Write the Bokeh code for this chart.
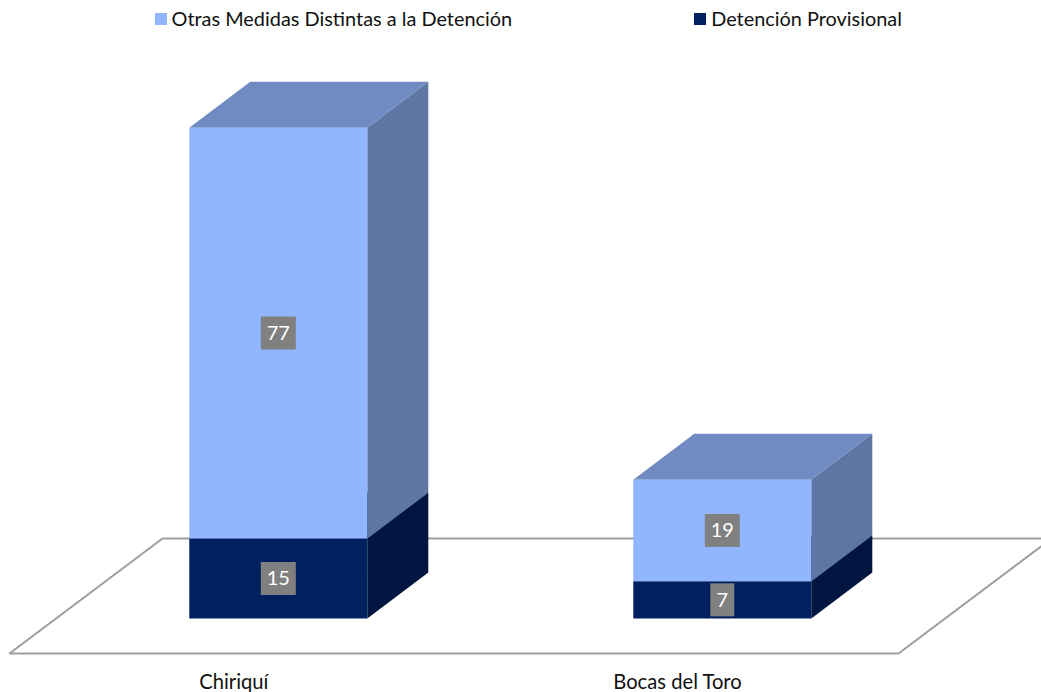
from bokeh.plotting import figure
from bokeh.embed import file_html
from bokeh.resources import INLINE
from bokeh.core.properties import value
from bokeh.models import FixedTicker, Legend, LegendItem

categories = ["Chiriquí", "Bocas del Toro"]
provisional = [15, 7]
otras = [77, 19]
series_names = ["Otras Medidas Distintas a la Detención", "Detención Provisional"]

FONT = "Lato"
W, H = 1041, 692
FRAME_H = 692
PX_X = 444.0      # px per category
PX_Y = 5.335      # px per unit
X0_PX = 277.8     # frame px of the first category centre
Y0_PX = 74.0      # frame px from the bottom to value 0
BAR = 178 / PX_X
DX = 61 / PX_X
DY = 46 / PX_Y

p = figure(width=W, height=H, output_backend="svg", toolbar_location=None,
           x_range=(-X0_PX / PX_X, (W - X0_PX) / PX_X),
           y_range=(-Y0_PX / PX_Y, (FRAME_H - Y0_PX) / PX_Y),
           min_border_left=0, min_border_right=0, min_border_top=0, min_border_bottom=0)
p.outline_line_color = None
p.xgrid.visible = False
p.ygrid.visible = False
p.yaxis.visible = False

# floor of the 3D chart
fl, fr = -268.8 / PX_X, 620.2 / PX_X
fb = -35 / PX_Y
fdx, fdy = 153 / PX_X, 115 / PX_Y
p.line([fl + fdx, fl, fr, fr + fdx, fl + fdx], [fb + fdy, fb, fb, fb + fdy, fb + fdy],
       line_color="#9E9E9E", line_width=2)

front_r = {}
for name, vals, bases, cf, ct, cs in [
    (series_names[1], provisional, [0, 0], "#00205F", "#001A4C", "#001540"),
    (series_names[0], otras, provisional, "#91B6FF", "#6F8BC2", "#5E76A3"),
]:
    for i, (v, b) in enumerate(zip(vals, bases)):
        l, r = i - BAR / 2, i + BAR / 2
        t = b + v
        # side face
        p.patch([r, r + DX, r + DX, r], [b, b + DY, t + DY, t], fill_color=cs, line_color=None)
        # top face
        p.patch([l, r, r + DX, l + DX], [t, t, t + DY, t + DY], fill_color=ct, line_color=None)
    front_r[name] = p.quad(left=[i - BAR / 2 for i in range(2)], right=[i + BAR / 2 for i in range(2)],
                           bottom=bases, top=[b + v for b, v in zip(bases, vals)],
                           fill_color=cf, line_color=None)

# value labels
xs, ys, ws, txt = [], [], [], []
for i in range(2):
    for v, b in ((provisional[i], 0), (otras[i], provisional[i])):
        xs.append(i); ys.append(b + v / 2); ws.append(11 * len(str(v)) + 13); txt.append(str(v))
p.rect(xs, ys, width=ws, height=33, width_units="screen", height_units="screen",
       fill_color="#808080", line_color=None)
p.text(xs, ys, text=txt, text_color="white", text_align="center", text_baseline="middle",
       text_font=value(FONT), text_font_size="20px")

# category axis, pinned just under the floor so it takes no extra room
p.xaxis.fixed_location = -42 / PX_Y
p.xaxis.ticker = FixedTicker(ticks=[i - 44.5 / PX_X for i in range(2)])
p.xaxis.major_label_overrides = {i - 44.5 / PX_X: c for i, c in enumerate(categories)}
p.xaxis.axis_line_color = None
p.xaxis.major_tick_line_color = None
p.xaxis.minor_tick_line_color = None
p.xaxis.major_label_text_font = FONT
p.xaxis.major_label_text_font_size = "20.2px"
p.xaxis.major_label_text_color = "#111111"
p.xaxis.major_label_standoff = 2

legend = Legend(items=[LegendItem(label=n, renderers=[front_r[n]]) for n in series_names],
                orientation="horizontal", location=(152.5, FRAME_H - 30), margin=0, padding=0, spacing=180,
                glyph_width=15, glyph_height=15, label_standoff=4,
                label_text_font=FONT, label_text_font_size="19.9px", label_text_color="#111111",
                background_fill_alpha=0, border_line_color=None)
p.add_layout(legend, "center")

open("out.html", "w").write(file_html(p, INLINE))
